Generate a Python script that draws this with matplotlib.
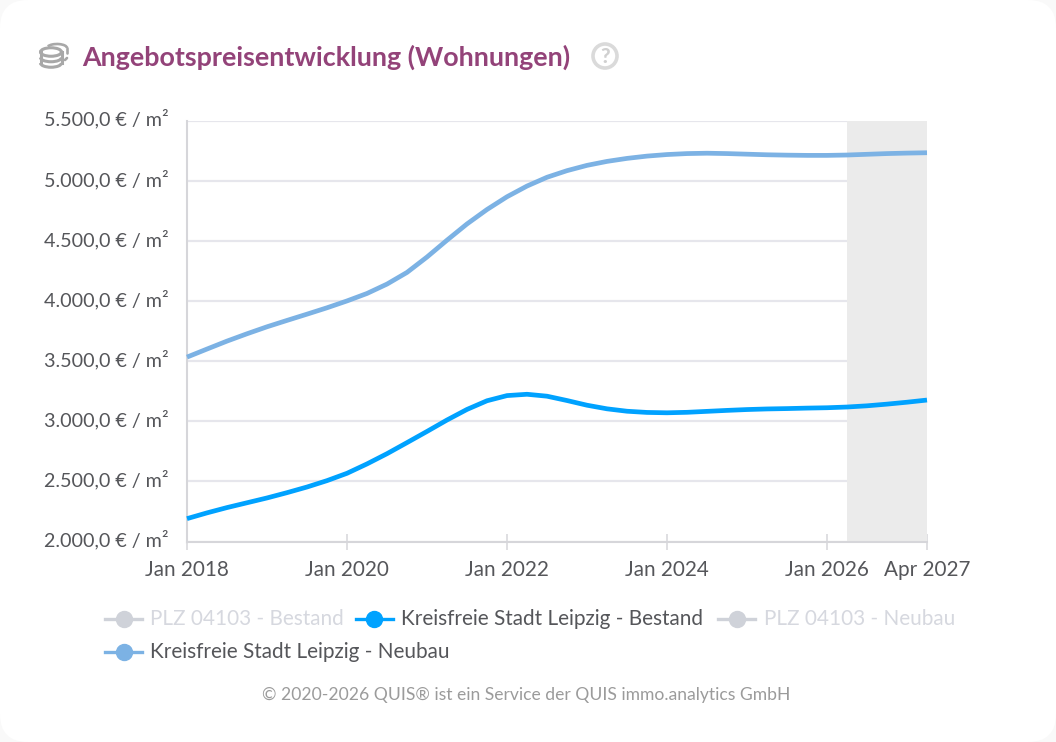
import matplotlib
matplotlib.use("Agg")
import matplotlib.pyplot as plt
from matplotlib.patches import FancyBboxPatch, Ellipse, Circle, Arc
from matplotlib.lines import Line2D
from matplotlib.transforms import Affine2D

plt.rcParams['font.family'] = ['Lato', 'DejaVu Sans']

# months since Jan 2018
months = [0, 3, 6, 9, 12, 15, 18, 21, 24, 27, 30, 33, 36, 39, 42, 45, 48, 51, 54, 57, 60, 63, 66, 69, 72, 75, 78,
          81, 84, 87, 90, 93, 96, 99, 102, 105, 108, 111]
neubau = [3533, 3600, 3666, 3727, 3785, 3838, 3890, 3943, 4000, 4062, 4140, 4237, 4365, 4505, 4640, 4760, 4866,
          4955, 5028, 5083, 5127, 5160, 5185, 5204, 5217, 5225, 5228, 5225, 5220, 5215, 5212, 5210, 5210, 5213,
          5219, 5225, 5229, 5232]
bestand = [2190, 2238, 2282, 2322, 2362, 2406, 2453, 2506, 2567, 2645, 2730, 2822, 2915, 3010, 3098, 3170, 3213,
           3224, 3208, 3172, 3133, 3103, 3083, 3073, 3070, 3074, 3082, 3090, 3097, 3102, 3105, 3109, 3112, 3118,
           3128, 3142, 3158, 3176]
x_ticks = [0, 24, 48, 72, 96, 111]
x_labels = ['Jan 2018', 'Jan 2020', 'Jan 2022', 'Jan 2024', 'Jan 2026', 'Apr 2027']
y_ticks = [2000, 2500, 3000, 3500, 4000, 4500, 5000, 5500]
y_labels = ['2.000,0 € / m²', '2.500,0 € / m²', '3.000,0 € / m²', '3.500,0 € / m²',
            '4.000,0 € / m²', '4.500,0 € / m²', '5.000,0 € / m²', '5.500,0 € / m²']
forecast_span = [99, 111]
title = 'Angebotspreisentwicklung (Wohnungen)'
footer = '© 2020-2026 QUIS® ist ein Service der QUIS immo.analytics GmbH'
legend_row1 = ['PLZ 04103 - Bestand', 'Kreisfreie Stadt Leipzig - Bestand', 'PLZ 04103 - Neubau']
legend_row2 = ['Kreisfreie Stadt Leipzig - Neubau']

W, H = 1056, 742
C_BESTAND, C_NEUBAU, C_OFF = '#00a2ff', '#7cb2e4', '#cfd2d9'
TXT = '#55565a'

fig = plt.figure(figsize=(W / 100, H / 100), dpi=100, facecolor='#f9f9f9')

# page layer in pixel coordinates
bg = fig.add_axes([0, 0, 1, 1], zorder=0)
bg.set_xlim(0, W); bg.set_ylim(H, 0); bg.axis('off')
bg.add_patch(FancyBboxPatch((28, 28), W - 56, H - 56, boxstyle='round,pad=28,rounding_size=28',
                            fc='white', ec='none'))

# coins icon
IC = '#a8a8a8'
bg.add_patch(Arc((57, 48), 20, 8, theta1=190, theta2=360, ec=IC, lw=1.9))
bg.plot([67, 67], [48, 53], color=IC, lw=1.9, solid_capstyle='round')
bg.plot([65, 67], [60, 58], color=IC, lw=1.9, solid_capstyle='round')
bg.add_patch(Ellipse((51, 52), 21, 8.5, fc='white', ec=IC, lw=2.2))
bg.plot([40.5, 40.5], [52, 63], color=IC, lw=2.2)
bg.plot([61.5, 61.5], [52, 63], color=IC, lw=2.2)
bg.add_patch(Arc((51, 57.5), 21, 8.5, theta1=0, theta2=180, ec=IC, lw=2.2))
bg.add_patch(Arc((51, 63), 21, 8.5, theta1=0, theta2=180, ec=IC, lw=2.2))

bg.text(82, 57.5, title, color='#934379', fontsize=19.4, fontweight='bold', va='center', ha='left')
bg.add_patch(Circle((605, 56), 12, fc='white', ec='#dadada', lw=2.6))
bg.text(605, 56.5, '?', color='#d0d0d0', fontsize=15, fontweight='black', ha='center', va='center')


def legend_item(x0, y, label, color, text_color):
    bg.add_line(Line2D([x0, x0 + 37], [y, y], color=color, lw=2.4))
    bg.add_line(Line2D([x0 + 18.5], [y], marker='o', ms=11.5, color=color, mec=color))
    bg.text(x0 + 45.5, y + 0.5, label, color=text_color, fontsize=14.95, va='center', ha='left')


legend_item(105, 618.5, legend_row1[0], C_OFF, '#d6d8df')
legend_item(355.5, 618.5, legend_row1[1], C_BESTAND, TXT)
legend_item(718, 618.5, legend_row1[2], C_OFF, '#d6d8df')
legend_item(105, 651.5, legend_row2[0], C_NEUBAU, TXT)
bg.text(526, 694.5, footer, color='#9b9b9b', fontsize=12.6, ha='center', va='center')

# chart
L, R, T, B = 187, 927, 120.5, 541.5
ax = fig.add_axes([L / W, 1 - B / H, (R - L) / W, (B - T) / H], zorder=1)
ax.patch.set_alpha(0)
ax.set_xlim(0, 111)
ax.set_ylim(2000, 5500)
ax.set_axisbelow(True)
ax.grid(axis='y', color='#e6e6ec', lw=1.6)
ax.axvspan(forecast_span[0], forecast_span[1], color='#ebebeb', lw=0, zorder=1)
ax.plot(months, neubau, color=C_NEUBAU, lw=3.4, zorder=3, clip_on=False, solid_capstyle='butt',
        solid_joinstyle='round')
ax.plot(months, bestand, color=C_BESTAND, lw=3.4, zorder=3, clip_on=False, solid_capstyle='butt',
        solid_joinstyle='round')
for s in ('top', 'right'):
    ax.spines[s].set_visible(False)
for s in ('left', 'bottom'):
    ax.spines[s].set_color('#d6d6da')
    ax.spines[s].set_linewidth(1.5)
ax.set_xticks(x_ticks, x_labels)
ax.set_yticks(y_ticks, y_labels)
ax.tick_params(axis='x', direction='inout', length=11, width=1.1, color='#d6d6da', pad=7.5,
               labelsize=14.9, labelcolor=TXT)
ax.tick_params(axis='y', length=0, pad=13, labelsize=14.2, labelcolor=TXT)
for lab in ax.get_yticklabels():
    lab.set_transform(lab.get_transform() + Affine2D().translate(0, 3))

fig.savefig('out.png', dpi=100, facecolor=fig.get_facecolor())
